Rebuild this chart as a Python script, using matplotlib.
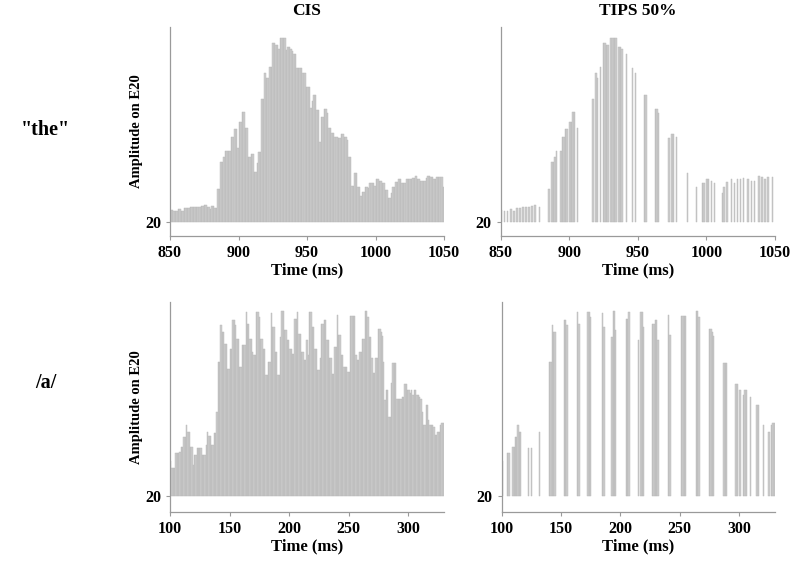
import numpy as np
import matplotlib.pyplot as plt

plt.rcParams['font.family'] = ['Liberation Serif', 'DejaVu Serif']
plt.rcParams['font.weight'] = 'bold'

# pulse period of the CIS strategy (900 pulses/s), ms
period = 1 / 0.9

# "the" : electrode 20 pulse amplitudes, first pulse at 850.6 ms
the_start = 850.6
the_cis = [
    24.9, 24.9, 24.5, 24.5, 24.5, 25.2, 25.2, 24.7, 24.7,
    25.6, 25.6, 25.6, 25.6, 26.0, 26.0, 26.0, 26.0, 26.0,
    26.3, 26.3, 26.6, 26.6, 27.0, 27.0, 26.0, 26.0, 25.2,
    26.6, 26.6, 25.6, 25.6, 33.4, 33.4, 44.8, 44.8, 46.8,
    49.3, 49.3, 49.3, 49.3, 55.0, 55.0, 58.2, 58.2, 50.2,
    61.2, 61.2, 65.3, 65.3, 58.4, 58.4, 46.8, 46.8, 47.9,
    47.9, 40.7, 40.7, 44.4, 48.9, 48.9, 70.5, 70.5, 81.0,
    79.0, 79.0, 83.5, 83.5, 93.6, 93.6, 92.6, 92.6, 91.0,
    95.4, 95.4, 95.4, 95.4, 90.6, 91.7, 91.7, 90.8, 90.3,
    89.0, 89.0, 83.1, 83.1, 83.3, 83.3, 81.0, 81.0, 75.3,
    75.3, 75.3, 66.6, 69.7, 72.1, 72.1, 66.0, 66.0, 53.0,
    63.2, 63.2, 66.2, 66.2, 64.9, 58.4, 58.4, 56.4, 56.4,
    55.0, 55.0, 54.3, 54.3, 56.0, 56.0, 55.0, 55.0, 53.7,
    46.8, 46.8, 34.8, 34.8, 40.0, 40.0, 34.2, 34.2, 30.8,
    32.2, 32.2, 34.2, 34.2, 33.8, 36.1, 36.1, 36.1, 34.8,
    37.5, 37.5, 37.0, 37.0, 36.1, 36.1, 33.1, 33.1, 30.0,
    30.0, 31.8, 34.5, 34.5, 36.6, 36.6, 37.5, 37.5, 36.1,
    36.1, 36.1, 37.5, 37.5, 37.5, 37.5, 37.9, 37.9, 38.9,
    37.5, 37.5, 37.0, 37.0, 37.0, 37.0, 37.9, 38.9, 38.9,
    38.3, 38.3, 37.5, 37.5, 38.3, 38.3, 38.3, 38.3, 34.5,
]
# pulses kept by TIPS 50% (indices into the_cis)
the_tips = [0, 2, 4, 6, 8, 10, 12, 14, 16, 18, 20, 22, 25,
            31, 33, 34, 35, 36, 39, 40, 41, 42, 43, 45, 46, 47, 48, 50,
            60, 62, 63, 65, 67, 68, 69, 70, 72, 73, 74, 75, 77, 78, 79, 82,
            86, 88, 94, 95, 101, 102, 103, 110, 112, 113, 115,
            122, 128, 132, 133, 135, 136, 138, 140,
            145, 146, 148, 151, 153, 155, 157, 159,
            162, 164, 166, 169, 171, 173, 175, 178]

# /a/ : first pulse at 100.6 ms
a_start = 100.6
a_cis = [
    34.5, 31.7, 31.7, 31.7, 37.6, 37.6, 37.6, 38.2, 40.3,
    40.3, 44.4, 44.4, 49.2, 46.5, 46.5, 40.3, 40.3, 32.8,
    36.9, 36.9, 39.6, 39.6, 39.6, 39.6, 36.9, 36.9, 36.9,
    41.0, 46.5, 44.7, 44.7, 41.0, 41.0, 45.8, 45.8, 54.7,
    75.3, 75.3, 90.4, 87.6, 87.6, 82.8, 82.8, 72.5, 72.5,
    80.8, 80.8, 92.7, 92.7, 90.4, 84.9, 84.9, 73.2, 73.2,
    82.1, 82.1, 82.1, 95.9, 91.1, 91.1, 84.9, 84.9, 79.4,
    78.0, 78.0, 95.9, 95.9, 93.8, 84.9, 84.9, 80.8, 80.8,
    69.8, 69.8, 75.3, 75.3, 95.5, 89.7, 89.7, 79.4, 79.4,
    69.8, 69.8, 85.6, 96.1, 96.1, 88.3, 88.3, 84.2, 84.2,
    80.8, 80.8, 78.7, 78.7, 93.1, 93.1, 95.9, 87.0, 87.0,
    79.4, 79.4, 76.0, 76.0, 84.2, 78.0, 95.9, 95.9, 89.7,
    89.7, 80.8, 80.8, 71.9, 71.9, 76.7, 91.1, 91.1, 92.4,
    92.4, 84.2, 84.2, 76.7, 76.7, 70.5, 70.5, 81.5, 81.5,
    94.5, 86.3, 86.3, 78.0, 78.0, 73.2, 73.2, 73.2, 71.2,
    71.2, 94.1, 94.1, 94.1, 94.1, 78.0, 76.0, 76.0, 79.4,
    79.4, 84.9, 84.9, 96.1, 96.1, 93.8, 85.6, 85.6, 76.7,
    70.8, 70.8, 76.7, 76.7, 89.0, 89.0, 87.6, 86.0, 75.3,
    59.5, 63.9, 63.9, 52.7, 52.7, 66.4, 74.9, 74.9, 74.9,
    59.8, 60.2, 60.2, 60.2, 60.9, 60.9, 66.0, 66.0, 63.9,
    63.9, 62.3, 63.6, 61.6, 63.6, 63.6, 61.6, 61.6, 60.9,
    60.2, 54.7, 49.2, 49.2, 57.5, 57.5, 51.3, 49.2, 49.2,
    49.2, 48.5, 45.1, 45.1, 46.5, 46.5, 49.2, 50.2, 50.2,
]
a_tips = [0, 4, 5, 8, 9, 10, 11, 12, 13, 14, 20, 22, 28,
          36, 37, 38, 39, 40, 47, 48, 49, 57, 58, 65, 66, 67,
          76, 77, 83, 84, 85, 86, 94, 95, 96, 103, 105, 106, 107,
          114, 115, 116, 117, 118, 126, 127, 136, 137, 138, 139,
          147, 148, 149, 157, 158, 159, 160, 168, 169, 170,
          177, 178, 180, 183, 184, 185, 188, 193, 194, 198,
          202, 204, 205, 206]

the_ticks = [850, 900, 950, 1000, 1050]
a_ticks = [100, 150, 200, 250, 300]

fig = plt.figure(figsize=(8, 5.63), dpi=100)

bar_face = '#cccccc'
bar_edge = '#b6b6b6'
spine_col = '#9a9a9a'


def panel(rect, start, amps, keep, xlim, ticks, ylim, ylabel, title):
    ax = fig.add_axes(rect)
    amps = np.array(amps)
    t = start + period * np.arange(len(amps))
    if keep is not None:
        t = t[keep]
        amps = amps[keep]
    ax.bar(t, amps - 20, bottom=20, width=period, align='center',
           color=bar_face, edgecolor=bar_edge, linewidth=0.3)
    ax.set_xlim(*xlim)
    ax.set_ylim(*ylim)
    ax.set_xticks(ticks)
    ax.set_yticks([20])
    for s in ['top', 'right']:
        ax.spines[s].set_visible(False)
    for s in ['left', 'bottom']:
        ax.spines[s].set_color(spine_col)
        ax.spines[s].set_linewidth(0.9)
    ax.tick_params(colors=spine_col, labelcolor='black', labelsize=11.5,
                   length=3, width=0.8)
    ax.set_xlabel('Time (ms)', fontsize=12, fontweight='bold', labelpad=1)
    if ylabel:
        ax.set_ylabel('Amplitude on E20', fontsize=10.5, fontweight='bold')
        ax.yaxis.set_label_coords(-0.1, 0.5)
    if title:
        ax.set_title(title, fontsize=12.5, fontweight='bold', pad=9)
    return ax


panel([0.2125, 0.581, 0.3425, 0.371], the_start, the_cis, None,
      (850, 1050), the_ticks, (14.3, 100), True, 'CIS')
panel([0.626, 0.581, 0.3425, 0.371], the_start, the_cis, the_tips,
      (850, 1050), the_ticks, (14.3, 100), False, 'TIPS 50%')
panel([0.2125, 0.0906, 0.3425, 0.373], a_start, a_cis, None,
      (100, 330), a_ticks, (13.4, 100), True, None)
panel([0.627, 0.0906, 0.3415, 0.373], a_start, a_cis, a_tips,
      (100, 330), a_ticks, (13.4, 100), False, None)

fig.text(0.057, 0.769, '"the"', fontsize=14.5, fontweight='bold',
         ha='center', va='center')
fig.text(0.057, 0.32, '/a/', fontsize=14.5, fontweight='bold',
         ha='center', va='center')

fig.savefig('out.png', dpi=100)
